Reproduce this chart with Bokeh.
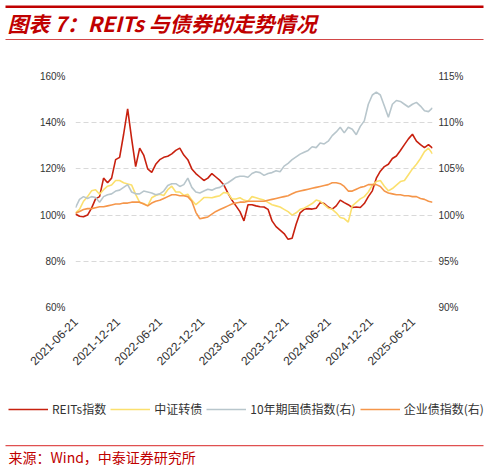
import math
import pandas as pd
from bokeh.plotting import figure
from bokeh.layouts import column, row
from bokeh.models import (Range1d, LinearAxis, FixedTicker, DatetimeTickFormatter,
                          Legend, LegendItem)
from bokeh.core.properties import value
from bokeh.embed import file_html
from bokeh.resources import INLINE

# ---------------- data ----------------
start_date = "2021-06-21"
step = "417h"

reits = [100.5, 99.5, 99.3, 100.0, 103.0, 107.0, 108.0, 116.0, 114.0, 116.0,
         124.0, 125.0, 135.0, 146.0, 133.0, 121.0, 129.0, 126.0, 120.0, 118.5,
         122.0, 124.0, 125.0, 125.5, 126.5, 128.0, 129.0, 126.0, 124.0, 120.0,
         118.0, 116.5, 115.0, 116.0, 118.0, 116.5, 115.0, 113.0, 109.5, 106.5,
         104.0, 101.5, 97.5, 104.5, 104.5, 104.0, 103.6, 103.5, 102.5, 97.5,
         95.0, 93.5, 92.0, 89.5, 90.0, 96.0, 101.0, 102.5, 102.8, 102.6,
         103.0, 105.4, 105.0, 103.5, 102.6, 104.0, 106.5, 105.4, 104.5, 103.3,
         103.5, 103.3, 105.0, 108.0, 110.5, 116.0, 119.0, 121.0, 122.0, 124.5,
         125.6, 128.0, 130.5, 133.0, 135.0, 132.0, 130.5, 129.2, 130.5, 129.0]

conv_bond = [101.0, 102.5, 106.0, 108.0, 110.5, 111.0, 109.0, 111.0, 112.5, 113.0,
             115.0, 115.0, 114.0, 113.5, 113.0, 109.0, 105.5, 105.0, 104.0, 107.5,
             108.5, 109.0, 108.5, 111.0, 112.5, 110.0, 110.0, 108.5, 109.0, 106.5,
             104.5, 106.0, 107.6, 107.6, 107.5, 108.0, 108.4, 109.8, 109.5, 107.0,
             107.0, 107.5, 106.5, 106.0, 108.0, 107.5, 107.0, 106.5, 105.5, 104.5,
             104.0, 103.5, 102.5, 101.5, 100.0, 101.0, 102.5, 103.0, 104.0, 105.0,
             106.5, 106.0, 104.5, 103.0, 102.5, 101.0, 99.0, 98.5, 97.0, 104.0,
             105.5, 107.0, 108.0, 110.0, 113.0, 114.5, 115.0, 112.5, 110.5, 111.5,
             113.0, 114.5, 115.0, 117.5, 120.0, 122.0, 124.5, 127.5, 129.0, 126.5]

gov10y = [100.8, 101.7, 102.0, 101.8, 102.0, 101.9, 101.4, 102.0, 102.2, 102.3,
          102.6, 102.7, 103.0, 103.3, 102.5, 102.3, 102.3, 102.6, 102.5, 102.4,
          102.2, 102.3, 102.6, 103.2, 103.4, 103.4, 103.1, 103.3, 104.0, 103.0,
          102.5, 102.4, 102.6, 102.8, 102.7, 102.9, 103.0, 103.3, 103.5, 103.8,
          104.1, 104.2, 104.2, 104.1, 104.5, 104.7, 104.6, 104.3, 104.5, 104.6,
          104.8, 104.7, 105.3, 105.6, 106.0, 106.3, 106.6, 106.8, 107.0, 107.4,
          107.3, 107.8, 107.7, 108.0, 108.6, 109.0, 109.5, 108.9, 109.5, 109.3,
          108.7, 109.6, 110.2, 112.0, 113.0, 113.3, 113.0, 111.8, 110.6, 112.0,
          112.4, 112.3, 112.0, 111.7, 112.0, 112.2, 111.8, 111.3, 111.2, 111.6]

corp = [100.2, 100.4, 100.6, 100.7, 100.7, 100.8, 100.9, 100.9, 101.0, 101.1,
        101.2, 101.2, 101.3, 101.3, 101.4, 101.4, 101.4, 101.2, 101.0, 101.3,
        101.5, 101.6, 101.8, 102.0, 102.2, 102.2, 102.1, 102.1, 102.0, 101.5,
        100.3, 99.6, 99.7, 99.8, 100.1, 100.4, 100.6, 100.8, 101.0, 101.2,
        101.3, 101.4, 101.4, 101.5, 101.5, 101.5, 101.5, 101.5, 101.6, 101.7,
        101.8, 101.9, 102.0, 102.1, 102.3, 102.5, 102.6, 102.7, 102.8, 102.9,
        103.0, 103.1, 103.2, 103.3, 103.5, 103.5, 103.4, 103.1, 102.6, 102.6,
        102.8, 103.0, 103.1, 103.3, 103.3, 103.3, 103.1, 102.6, 102.4, 102.3,
        102.2, 102.2, 102.1, 102.1, 102.0, 102.0, 101.8, 101.7, 101.5, 101.4]

series_names = ["REITs指数", "中证转债", "10年期国债指数(右)", "企业债指数(右)"]
series_colors = ["#C8210F", "#FBE06E", "#B8C6CC", "#F5964A"]

tick_dates = ["2021-06-21", "2021-12-21", "2022-06-21", "2022-12-21", "2023-06-21",
              "2023-12-21", "2024-06-21", "2024-12-21", "2025-06-21"]
left_ticks = [60, 80, 100, 120, 140, 160]
right_ticks = [90, 95, 100, 105, 110, 115]

title_text = "图表 7：REITs 与债券的走势情况"
source_text = "来源：Wind，中泰证券研究所"

W = 490
RED = "#C00000"
CJK = "Noto Sans CJK SC"


def blank_fig(h):
    f = figure(width=W, height=h, x_range=Range1d(0, W), y_range=Range1d(h, 0),
               x_axis_location=None, y_axis_location=None, min_border=0,
               output_backend="svg", toolbar_location=None)
    f.outline_line_color = None
    f.grid.visible = False
    f.background_fill_color = "white"
    f.border_fill_color = "white"
    return f


# ---------------- header ----------------
HH = 42
header = blank_fig(HH)
header.quad(left=[5], right=[483], top=[5], bottom=[7.5], fill_color=RED, line_color=None)
header.quad(left=[5], right=[483], top=[38.6], bottom=[39.6], fill_color="#D24848",
            line_color=None)
header.text(x=[7], y=[22], text=[title_text], text_font=value(CJK),
            text_font_size="21px", text_font_style="bold italic", text_color=RED,
            text_baseline="middle")

# ---------------- main chart ----------------
dates = pd.date_range(start_date, periods=len(reits), freq=step)

p = figure(x_axis_type="datetime", frame_width=357, frame_height=231,
           min_border_left=75, min_border_right=W - 75 - 357, min_border_top=34,
           min_border_bottom=85, output_backend="svg", toolbar_location=None,
           x_range=Range1d(dates[0], dates[-1]), y_range=Range1d(60, 160))
p.outline_line_color = None
p.background_fill_color = "white"
p.border_fill_color = "white"
p.extra_y_ranges = {"right": Range1d(90, 115)}

p.xgrid.visible = False
p.ygrid.grid_line_color = "#D9D9D9"
p.ygrid.grid_line_dash = "5 3"
p.ygrid.grid_line_width = 1
p.ygrid.ticker = FixedTicker(ticks=left_ticks)

tick_ms = [pd.Timestamp(d).value / 1e6 for d in tick_dates]
xa = p.xaxis[0]
xa.ticker = FixedTicker(ticks=tick_ms)
xa.formatter = DatetimeTickFormatter(days="%Y-%m-%d", months="%Y-%m-%d",
                                     years="%Y-%m-%d", hours="%Y-%m-%d")
xa.major_label_orientation = math.pi / 4
xa.major_label_text_font = "Liberation Sans"
xa.major_label_text_font_size = "12px"
xa.major_label_text_color = "#333333"
xa.major_label_standoff = 12

ya = p.yaxis[0]
ya.ticker = FixedTicker(ticks=left_ticks)
ya.major_label_overrides = {v: f"{v}%" for v in left_ticks}
ya.major_label_standoff = 10

ra = LinearAxis(y_range_name="right", ticker=FixedTicker(ticks=right_ticks))
ra.major_label_overrides = {v: f"{v}%" for v in right_ticks}
ra.major_label_standoff = 6
p.add_layout(ra, "right")

for ax in [xa, ya, ra]:
    ax.axis_line_color = None
    ax.major_tick_line_color = None
    ax.minor_tick_line_color = None
    ax.major_tick_out = 0
    ax.major_tick_in = 0
for ax in [ya, ra]:
    ax.major_label_text_font = "Liberation Sans"
    ax.major_label_text_font_size = "10px"
    ax.major_label_text_color = "#333333"

r1 = p.line(dates, reits, color=series_colors[0], line_width=1.6)
r2 = p.line(dates, conv_bond, color=series_colors[1], line_width=1.6)
r3 = p.line(dates, gov10y, color=series_colors[2], line_width=1.6, y_range_name="right")
r4 = p.line(dates, corp, color=series_colors[3], line_width=1.6, y_range_name="right")

# ---------------- footer: legend + source ----------------
FH = 73
footer = blank_fig(FH)
# legend proxies: drawn outside the visible range, only their styling is used
leg_renderers = [footer.line(x=[-50, -40], y=[-50, -50], color=c, line_width=1.6)
                 for c in series_colors]
legend = Legend(items=[LegendItem(label=n, renderers=[r]) for n, r in
                       zip(series_names, leg_renderers)],
                location=(8, FH - 25), orientation="horizontal",
                glyph_width=40, glyph_height=14, label_height=14,
                label_standoff=4, spacing=4, padding=0, margin=0,
                border_line_color=None, background_fill_alpha=0,
                label_text_font=CJK, label_text_font_size="12px",
                label_text_color="#333333")
footer.add_layout(legend)
footer.quad(left=[5], right=[483], top=[52.6], bottom=[53.8], fill_color="#E05050",
            line_color=None)
footer.text(x=[8], y=[64], text=[source_text], text_font=value(CJK),
            text_font_size="14px", text_color=RED, text_baseline="middle")

layout = column(row(header), p, row(footer), spacing=0)
open("out.html", "w").write(file_html(layout, INLINE))
